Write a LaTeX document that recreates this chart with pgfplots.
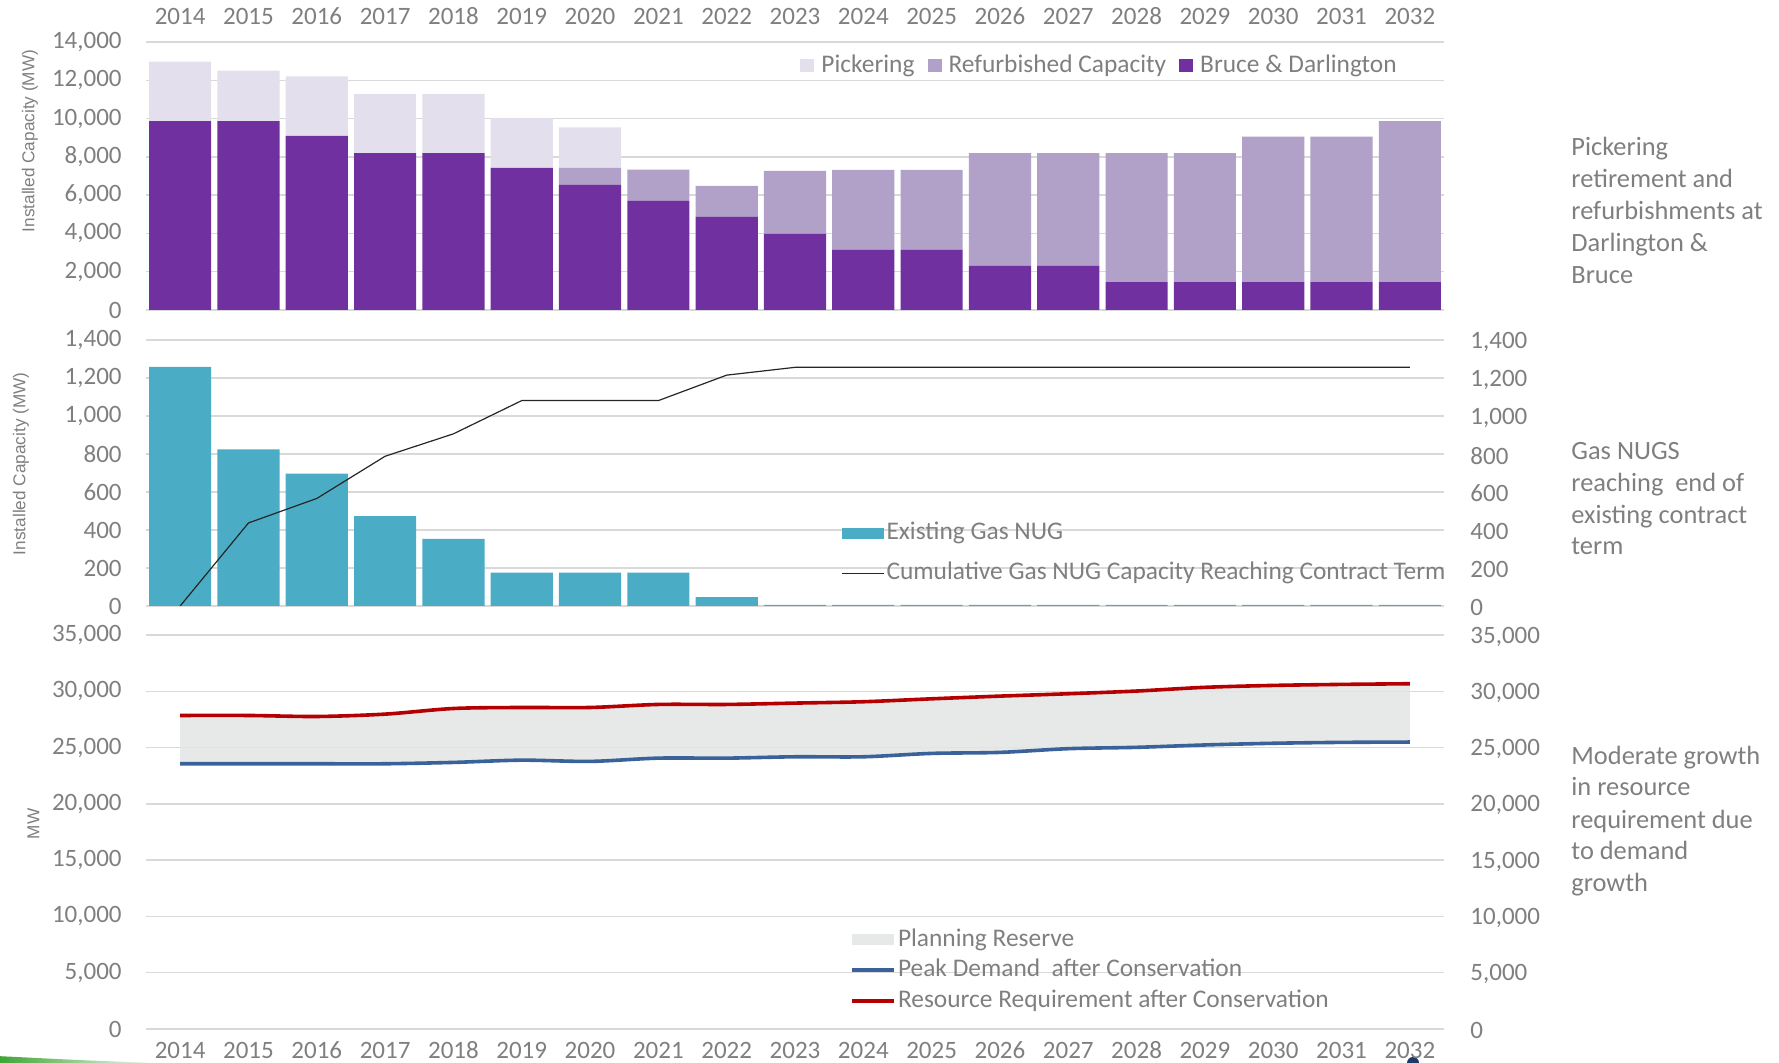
\documentclass[border=0pt]{standalone}
\usepackage{pgfplots}
\pgfplotsset{compat=1.18}
\usepackage{pgfplotstable}
\usepackage{fontspec}
\setmainfont{Carlito}
\newfontfamily\arialfont{Liberation Sans}

\definecolor{bdpurple}{HTML}{7030A0}
\definecolor{refurb}{HTML}{B1A0C7}
\definecolor{pick}{HTML}{E4DFEC}
\definecolor{nugteal}{HTML}{4BACC6}
\definecolor{reservegray}{HTML}{E4E6E5}
\definecolor{peakblue}{HTML}{3A629A}
\definecolor{reqred}{HTML}{B40000}
\definecolor{gridgray}{HTML}{D9D9D9}
\definecolor{textgray}{HTML}{7F7F7F}
\definecolor{swoosh}{HTML}{3FA535}
\definecolor{logonavy}{HTML}{1F3A68}

\newcommand\ticksfont{\fontsize{12.5}{15}\selectfont}
\newcommand\legfont{\fontsize{12.7}{15}\selectfont}
\newcommand\notefont{\fontsize{13.2}{16}\selectfont}

% Nuclear capacity (MW)
\pgfplotstableread{
x bd refurb pick
0 9870 0 3110
1 9870 0 2640
2 9100 0 3100
3 8200 0 3095
4 8200 0 3095
5 7420 0 2620
6 6530 890 2120
7 5700 1630 0
8 4865 1615 0
9 3980 3285 0
10 3145 4170 0
11 3145 4170 0
12 2310 5890 0
13 2310 5890 0
14 1460 6740 0
15 1460 6740 0
16 1460 7590 0
17 1460 7590 0
18 1460 8410 0
}\toptable

% Gas NUGs (MW)
\pgfplotstableread{
x gas cum
0 1258 0
1 824 437
2 697 566
3 473 788
4 353 906
5 176 1081
6 176 1081
7 176 1081
8 46 1215
9 6 1256
10 6 1256
11 6 1256
12 6 1256
13 6 1256
14 6 1256
15 6 1256
16 6 1256
17 6 1256
18 6 1256
}\midtable

% Demand (MW)
\pgfplotstableread{
x peak req
0 23560 27850
1 23560 27850
2 23560 27760
3 23560 27970
4 23680 28470
5 23880 28560
6 23770 28560
7 24060 28830
8 24060 28830
9 24180 28950
10 24180 29070
11 24480 29330
12 24570 29570
13 24900 29780
14 25020 30020
15 25230 30350
16 25380 30520
17 25460 30610
18 25490 30670
}\bottable

% Planning reserve band outline (requirement forward, peak demand back)
\pgfplotstableread{
x y
0 27850
1 27850
2 27760
3 27970
4 28470
5 28560
6 28560
7 28830
8 28830
9 28950
10 29070
11 29330
12 29570
13 29780
14 30020
15 30350
16 30520
17 30610
18 30670
18 25490
17 25460
16 25380
15 25230
14 25020
13 24900
12 24570
11 24480
10 24180
9 24180
8 24060
7 24060
6 23770
5 23880
4 23680
3 23560
2 23560
1 23560
0 23560
}\bandtable

\pgfplotsset{
  panel/.style={
    scale only axis, width=649pt, anchor=south west,
    xmin=-0.5, xmax=18.5,
    axis line style={draw=none}, major tick length=0pt,
    ymajorgrids, grid style={color=gridgray, line width=0.7pt},
    scaled y ticks=false,
    /pgf/number format/assume math mode=true,
    /pgf/number format/1000 sep={,},
    tick label style={font=\ticksfont, text=textgray},
    yticklabel style={anchor=east, inner sep=0pt, xshift=-12pt},
    xtick={0,...,18},
    legend cell align=left,
  },
  rightaxis/.style={
    scale only axis, width=649pt, anchor=south west,
    xmin=-0.5, xmax=18.5,
    axis line style={draw=none}, major tick length=0pt,
    xtick=\empty, yticklabel pos=right,
    scaled y ticks=false,
    /pgf/number format/assume math mode=true,
    /pgf/number format/1000 sep={,},
    tick label style={font=\ticksfont, text=textgray},
    yticklabel style={anchor=west, inner sep=0pt, xshift=13pt, yshift=-0.8pt},
  },
  yearlabels/.style={xticklabels={2014,2015,2016,2017,2018,2019,2020,2021,2022,2023,2024,2025,2026,2027,2028,2029,2030,2031,2032}},
  mylegend/.style={legend style={draw=none, fill=none, inner sep=0pt, font=\legfont, text=textgray,
     nodes={inner sep=1pt, text height=9pt, text depth=2.5pt}, cells={anchor=west}}},
}

\begin{document}
\begin{tikzpicture}
\path[use as bounding box] (0pt,0pt) rectangle (889.5pt,531.5pt);

% decorative slide swoosh and logo edge
\shade[left color=swoosh, right color=swoosh!10, draw=none]
  (0pt,0pt) -- (0pt,3.4pt) .. controls (25pt,2.2pt) and (50pt,0.8pt) .. (75pt,0.2pt) -- (75pt,0pt) -- cycle;
\fill[logonavy] (709.5pt,0pt) arc[start angle=0, end angle=180, radius=3pt] -- cycle;

% ---------- top panel ----------
\begin{axis}[panel, at={(73pt,376.5pt)}, height=134pt,
  ymin=0, ymax=14000, ytick={0,2000,...,14000},
  ybar stacked, bar width=0.91,
  yearlabels, xticklabel pos=upper,
  xticklabel style={anchor=center, inner sep=0pt, text height=8pt, text depth=0pt, yshift=12.5pt},
  mylegend, reverse legend, legend columns=3,
  legend style={at={(0.5039,0.911)}, anchor=west,
    /tikz/every odd column/.append style={column sep=2.5pt},
    /tikz/every even column/.append style={column sep=5.5pt}},
]
\addplot[fill=bdpurple, draw=none, legend image code/.code={\fill[bdpurple] (0pt,-3pt) rectangle (7pt,3.5pt);}] table[x=x, y=bd] {\toptable};
\addlegendentry{Bruce \& Darlington}
\addplot[fill=refurb, draw=none, legend image code/.code={\fill[refurb] (0pt,-3pt) rectangle (7pt,3.5pt);}] table[x=x, y=refurb] {\toptable};
\addlegendentry{Refurbished Capacity}
\addplot[fill=pick, draw=none, legend image code/.code={\fill[pick] (0pt,-3pt) rectangle (7pt,3.5pt);}] table[x=x, y=pick] {\toptable};
\addlegendentry{Pickering}
\end{axis}

% ---------- middle panel ----------
\begin{axis}[panel, at={(73pt,228.5pt)}, height=133pt,
  ymin=0, ymax=1400, ytick={0,200,...,1400}, xtick=\empty,
  mylegend,
  legend style={at={(0.5354,0.325)}, anchor=north west, row sep=6.5pt},
]
\addplot[ybar, bar width=0.91, fill=nugteal, draw=none,
  legend image code/.code={\fill[nugteal] (0pt,-2.85pt) rectangle (21pt,2.85pt);}] table[x=x, y=gas] {\midtable};
\addlegendentry{Existing Gas NUG}
\addplot[color=black!85, line width=0.6pt, mark=none,
  legend image code/.code={\draw[black!85, line width=0.6pt] (0pt,0pt) -- (21pt,0pt);}] table[x=x, y=cum] {\midtable};
\addlegendentry{Cumulative Gas NUG Capacity Reaching Contract Term}
\end{axis}
\begin{axis}[rightaxis, at={(73pt,228.5pt)}, height=133pt,
  ymin=0, ymax=1400, ytick={0,200,...,1400}]
\addplot[draw=none] coordinates {(0,0)};
\end{axis}

% ---------- bottom panel ----------
\begin{axis}[panel, at={(73pt,17pt)}, height=197pt,
  ymin=0, ymax=35000, ytick={0,5000,...,35000},
  yearlabels, xticklabel style={anchor=center, inner sep=0pt, text height=8pt, text depth=0pt, yshift=-11pt},
  mylegend,
  legend style={at={(0.5424,0.262)}, anchor=north west, row sep=1.8pt},
]
\addplot[fill=reservegray, fill opacity=0.9, draw=none,
  legend image code/.code={\fill[reservegray] (0pt,-2.85pt) rectangle (21pt,2.85pt);}] table[x=x, y=y] {\bandtable} -- cycle;
\addlegendentry{Planning Reserve}
\addplot[peakblue, line width=1.8pt, smooth, mark=none,
  legend image code/.code={\draw[peakblue, line width=1.8pt] (0pt,0pt) -- (21pt,0pt);}] table[x=x, y=peak] {\bottable};
\addlegendentry{Peak Demand~ after Conservation}
\addplot[reqred, line width=1.8pt, smooth, mark=none,
  legend image code/.code={\draw[reqred, line width=1.8pt] (0pt,0pt) -- (21pt,0pt);}] table[x=x, y=req] {\bottable};
\addlegendentry{Resource Requirement after Conservation}
\end{axis}
\begin{axis}[rightaxis, at={(73pt,17pt)}, height=197pt,
  ymin=0, ymax=35000, ytick={0,5000,...,35000}]
\addplot[draw=none] coordinates {(0,0)};
\end{axis}

% ---------- axis titles ----------
\node[rotate=90, font=\arialfont\fontsize{8.6}{10}\selectfont, text=textgray] at (15pt,461pt) {Installed Capacity (MW)};
\node[rotate=90, font=\arialfont\fontsize{8.6}{10}\selectfont, text=textgray] at (10.5pt,299.6pt) {Installed Capacity (MW)};
\node[rotate=90, font=\arialfont\fontsize{8.6}{10}\selectfont, text=textgray] at (16.7pt,119.5pt) {MW};

% ---------- side notes ----------
\begin{scope}[every node/.style={anchor=base west, inner sep=0pt, font=\notefont, text=textgray}]
\node at (785.5pt,453.6pt) {Pickering};
\node at (785.5pt,437.6pt) {retirement and};
\node at (785.5pt,421.6pt) {refurbishments at};
\node at (785.5pt,405.6pt) {Darlington \&};
\node at (785.5pt,389.6pt) {Bruce};
\node at (785.5pt,301.6pt) {Gas NUGS};
\node at (785.5pt,285.7pt) {reaching~ end of};
\node at (785.5pt,269.9pt) {existing contract};
\node at (785.5pt,254.1pt) {term};
\node at (785.5pt,149.4pt) {Moderate growth};
\node at (785.5pt,133.5pt) {in resource};
\node at (785.5pt,117.2pt) {requirement due};
\node at (785.5pt,101.7pt) {to demand};
\node at (785.5pt,85.9pt) {growth};
\end{scope}
\end{tikzpicture}
\end{document}
